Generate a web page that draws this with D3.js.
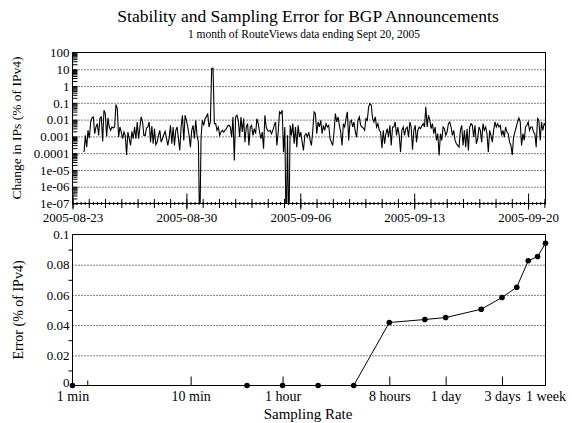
<!DOCTYPE html>
<html>
<head>
<meta charset="utf-8">
<script src="https://cdn.jsdelivr.net/npm/d3@7"></script>
<style>
  body { margin: 0; background: #fff; }
  text { font-family: "Liberation Serif", "Times New Roman", serif; fill: #000; }
</style>
</head>
<body>
<div id="chart"></div>
<script>
// ---- top panel: change in IPs, stored as log10(% of IPv4), about one value per 2 hours
// -9 marks the intervals with no change (drawn down through the bottom of the plot)
var changeExp = [
  -3.94, -2.94, -3.64, -2.64, -3.1, -2.14, -1.9, -1.84, -2.84, -2.44, -2.24, -2.94, -1.9, -1.84, -3.3, -1.44,
  -1.64, -3.0, -1.9, -2.44, -2.64, -2.44, -2.5, -2.44, -1.1, -1.34, -3.04, -2.44, -2.74, -3.14, -2.74, -2.94,
  -4.1, -2.74, -3.14, -3.54, -2.7, -3.14, -2.44, -3.14, -2.14, -3.14, -2.44, -1.84, -2.14, -2.94, -2.94, -2.5,
  -2.44, -2.14, -3.34, -2.38, -3.44, -2.54, -3.5, -3.34, -2.94, -2.64, -3.34, -3.14, -2.9, -2.7, -3.1, -3.54, -3.1,
  -2.34, -3.44, -2.44, -3.54, -2.64, -2.44, -3.14, -3.84, -2.44, -1.74, -3.24, -1.74, -2.04, -2.44, -2.94, -3.64,
  -2.64, -2.34, -3.14, -2.04, -2.94, -3.34, -9, -3.04, -2.04, -2.34, -1.94, -1.84, -1.64, -2.44, -2.14, 1.06,
  1.06, -2.24, -2.24, -2.64, -2.44, -2.94, -2.74, -2.64, -2.74, -2.64, -2.54, -2.38, -2.34, -2.44, -3.04, -1.84,
  -4.44, -1.84, -1.74, -2.04, -3.04, -1.84, -2.74, -1.94, -3.34, -2.44, -2.24, -3.54, -2.44, -2.34, -2.94, -2.54,
  -2.84, -1.94, -2.24, -2.74, -3.14, -2.74, -3.74, -1.74, -2.44,
  -2.64, -2.7, -2.64, -2.84, -2.64, -2.34, -2.14, -3.54, -2.74, -1.54, -1.64, -1.44, -3.94, -2.44, -9, -2.94,
  -9, -2.34, -2.94, -2.24, -3.44, -2.44, -3.64, -2.34, -3.04, -2.74, -3.34, -3.84, -2.94, -2.84, -3.04, -2.74,
  -3.24, -3.54, -2.64, -1.54, -1.64, -2.84, -2.14, -2.44, -2.04, -2.84, -2.34, -2.64, -2.24, -2.44, -2.34, -3.14,
  -3.34, -3.54, -2.74, -1.64, -2.14, -1.84, -2.34, -2.74, -3.54, -2.24, -2.44, -1.94, -1.54, -3.24, -2.14, -2.04,
  -2.44, -2.14, -2.74, -3.04, -2.04, -1.84, -2.34, -2.44, -2.5,
  -2.64, -1.94, -2.04, -1.24, -1.04, -1.14, -1.94, -2.14, -1.84, -2.44, -2.24, -2.64, -2.74, -3.7, -2.64, -3.44,
  -2.84, -2.54, -3.04, -2.34, -3.54, -2.44, -2.44, -2.14, -2.94, -2.44, -2.94, -3.94, -2.64, -2.44, -2.94, -2.54,
  -2.44, -3.04, -2.14, -2.44, -3.8, -2.64, -2.34, -3.34, -2.64, -2.44, -2.54, -2.38, -2.24, -2.44, -1.24, -2.44,
  -1.74, -2.04, -2.54, -2.24, -2.84, -2.44, -3.24, -2.84, -4.14, -2.84, -3.24, -2.44, -2.54, -2.94, -2.74, -2.24,
  -2.14, -2.44, -2.94, -2.64, -3.24, -3.44, -3.54, -3.64, -2.64,
  -2.34, -3.54, -2.64, -3.64, -2.54, -3.84, -2.44, -2.24, -2.34, -3.04, -2.34, -3.44, -3.14, -2.44, -2.64, -3.34,
  -2.24, -2.64, -2.44, -2.84, -3.94, -2.64, -2.94, -3.34, -2.64, -2.14, -2.44, -2.24, -2.44, -2.34, -2.94, -2.64,
  -3.04, -2.44, -2.74, -2.84, -3.34, -3.54, -4.1, -3.04, -2.74, -2.44, -2.14, -1.9, -2.14, -3.54, -2.84, -3.24,
  -2.44, -2.34, -2.14, -2.64, -2.44, -2.44, -2.74, -2.84, -3.64, -1.94, -2.04, -3.24, -2.14, -2.64, -2.24, -2.34
];
var seriesStart = new Date(2005, 7, 23, 17, 0);
var seriesEnd = new Date(2005, 8, 21, 1, 40);
var dateTicks = ["2005-08-23", "2005-08-30", "2005-09-06", "2005-09-13", "2005-09-20"];
var decadeTicks = [1e-7, 1e-6, 1e-5, 1e-4, 1e-3, 1e-2, 1e-1, 1, 10, 100];
var decadeLabels = ["1e-07", "1e-06", "1e-05", "0.0001", "0.001", "0.01", "0.1", "1", "10", "100"];

// ---- bottom panel: sampling error vs sampling interval (minutes)
var rateMinutes = [1, 30, 60, 120, 240, 480, 960, 1440, 2880, 4320, 5760, 7200, 8640, 10080];
var rateError = [0, 0, 0, 0, 0, 0.0417, 0.0437, 0.045, 0.0505, 0.0583, 0.0651, 0.0826, 0.0854, 0.0942];
var rateTicks = [1, 10, 60, 480, 1440, 4320, 10080];
var rateLabels = ["1 min", "10 min", "1 hour", "8 hours", "1 day", "3 days", "1 week"];
var errorTicks = [0, 0.02, 0.04, 0.06, 0.08, 0.1];
var errorMinor = [0.01, 0.03, 0.05, 0.07, 0.09];

var width = 572, height = 423;
var svg = d3.select("#chart").append("svg")
  .attr("width", width)
  .attr("height", height);

// titles
svg.append("text")
  .attr("x", 308).attr("y", 22)
  .attr("text-anchor", "middle")
  .style("font-size", "17.5px")
  .text("Stability and Sampling Error for BGP Announcements");
svg.append("text")
  .attr("x", 304).attr("y", 38)
  .attr("text-anchor", "middle")
  .style("font-size", "11.5px")
  .text("1 month of RouteViews data ending Sept 20, 2005");

//---------------- top panel
var left = 72.5, right = 545.5;
var topY0 = 52.5, topY1 = 203.5;
var parseDay = d3.timeParse("%Y-%m-%d");
var fmtDay = d3.timeFormat("%Y-%m-%d");

var xTop = d3.scaleTime()
  .domain([new Date(2005, 7, 23), new Date(2005, 8, 21, 1, 40)])
  .range([left, right]);
var yTop = d3.scaleLog().domain([1e-7, 100]).range([topY1, topY0]);

var n = changeExp.length;
var stepMs = (seriesEnd - seriesStart) / (n - 1);
var changeData = changeExp.map(function(e, i) {
  return { date: new Date(+seriesStart + i * stepMs), value: Math.pow(10, e) };
});

var topPanel = svg.append("g");

// dotted grid at every decade
topPanel.append("g")
  .attr("transform", "translate(" + left + ",0)")
  .call(d3.axisLeft(yTop).tickValues(decadeTicks.slice(1, -1)).tickSize(-(right - left)).tickFormat(""))
  .call(function(g) { g.select(".domain").remove(); })
  .selectAll("line").attr("stroke", "#000").attr("stroke-dasharray", "1,2");

// log minor ticks on the inside of the left edge
var minorLog = [];
decadeTicks.slice(0, -1).forEach(function(d) {
  for (var k = 1; k < 10; k++) minorLog.push(d * k);
});
minorLog.push(100);
topPanel.append("g")
  .attr("transform", "translate(" + left + ",0)")
  .call(d3.axisRight(yTop).tickValues(minorLog).tickSize(5).tickFormat(""))
  .call(function(g) { g.select(".domain").remove(); });

// decade labels
topPanel.append("g")
  .attr("transform", "translate(" + left + ",0)")
  .call(d3.axisLeft(yTop).tickValues(decadeTicks).tickSize(0).tickPadding(3)
    .tickFormat(function(d, i) { return decadeLabels[i]; }))
  .call(function(g) { g.select(".domain").remove(); })
  .selectAll("text")
  .style("font-size", "13px")
  .style("font-family", "Liberation Serif");

// x axis: 6-hour hatch, day crosses, week ticks
var sixHours = d3.timeHour.every(6).range(xTop.domain()[0], xTop.domain()[1]);
var days = d3.timeDay.range(xTop.domain()[0], xTop.domain()[1]);
var weeks = dateTicks.map(parseDay);

function tickAxis(axis, vals, size) {
  topPanel.append("g")
    .attr("transform", "translate(0," + topY1 + ")")
    .call(axis(xTop).tickValues(vals).tickSize(size).tickFormat(""))
    .call(function(g) { g.select(".domain").remove(); });
}
tickAxis(d3.axisTop, sixHours, 1.5);
tickAxis(d3.axisBottom, sixHours, 1.5);
tickAxis(d3.axisTop, days, 4.5);
tickAxis(d3.axisBottom, days, 4.5);
tickAxis(d3.axisTop, weeks, 10);

topPanel.append("g")
  .attr("transform", "translate(0," + topY1 + ")")
  .call(d3.axisBottom(xTop).tickValues(weeks).tickSize(6).tickPadding(3).tickFormat(fmtDay))
  .call(function(g) { g.select(".domain").remove(); })
  .selectAll("text")
  .style("font-size", "13px")
  .style("font-family", "Liberation Serif");

// the series
svg.append("clipPath").attr("id", "clipTop")
  .append("rect")
  .attr("x", left).attr("y", topY0)
  .attr("width", right - left).attr("height", topY1 - topY0);

topPanel.append("path")
  .datum(changeData)
  .attr("clip-path", "url(#clipTop)")
  .attr("fill", "none")
  .attr("stroke", "#000")
  .attr("stroke-width", 1.1)
  .attr("d", d3.line()
    .x(function(d) { return xTop(d.date); })
    .y(function(d) { return yTop(d.value); }));

topPanel.append("rect")
  .attr("x", left).attr("y", topY0)
  .attr("width", right - left).attr("height", topY1 - topY0)
  .attr("fill", "none").attr("stroke", "#000");

topPanel.append("text")
  .attr("transform", "translate(21," + ((topY0 + topY1) / 2) + ") rotate(-90)")
  .attr("text-anchor", "middle")
  .style("font-size", "13.5px")
  .text("Change in IPs (% of IPv4)");

//---------------- bottom panel
var botY0 = 234.5, botY1 = 385.5;
var xBot = d3.scaleLog().domain([1, 10080]).range([left, right]);
var yBot = d3.scaleLinear().domain([0, 0.1]).range([botY1, botY0]);

var botPanel = svg.append("g");

botPanel.append("g")
  .attr("transform", "translate(" + left + ",0)")
  .call(d3.axisLeft(yBot).tickValues(errorTicks.slice(1, -1)).tickSize(-(right - left)).tickFormat(""))
  .call(function(g) { g.select(".domain").remove(); })
  .selectAll("line").attr("stroke", "#000").attr("stroke-dasharray", "1,2");

botPanel.append("g")
  .attr("transform", "translate(" + left + ",0)")
  .call(d3.axisLeft(yBot).tickValues(errorMinor).tickSize(4).tickFormat(""))
  .call(function(g) { g.select(".domain").remove(); });

botPanel.append("g")
  .attr("transform", "translate(" + left + ",0)")
  .call(d3.axisLeft(yBot).tickValues(errorTicks).tickSize(0).tickPadding(3)
    .tickFormat(function(d) { return d === 0 ? "0" : String(+d.toFixed(2)); }))
  .call(function(g) { g.select(".domain").remove(); })
  .selectAll("text")
  .attr("dy", function(d) { return d === 0 ? "0.05em" : "0.32em"; })
  .style("font-size", "13px")
  .style("font-family", "Liberation Serif");

// rate ticks point up into the plot, labels below
botPanel.append("g")
  .attr("transform", "translate(0," + botY1 + ")")
  .call(d3.axisTop(xBot).tickValues(rateTicks.slice(1, -1)).tickSize(9).tickFormat(""))
  .call(function(g) { g.select(".domain").remove(); });
botPanel.append("g")
  .attr("transform", "translate(0," + botY1 + ")")
  .call(d3.axisTop(xBot).tickValues([4 / 3]).tickSize(5).tickFormat(""))
  .call(function(g) { g.select(".domain").remove(); });
botPanel.append("g")
  .attr("transform", "translate(0," + botY1 + ")")
  .call(d3.axisBottom(xBot).tickValues(rateTicks).tickSize(0).tickPadding(6)
    .tickFormat(function(d, i) { return rateLabels[i]; }))
  .call(function(g) { g.select(".domain").remove(); })
  .selectAll("text")
  .attr("dy", "0.68em")
  .style("font-size", "14px")
  .style("font-family", "Liberation Serif");

botPanel.append("rect")
  .attr("x", left).attr("y", botY0)
  .attr("width", right - left).attr("height", botY1 - botY0)
  .attr("fill", "none").attr("stroke", "#000");

var rateData = rateMinutes.map(function(m, i) { return { m: m, e: rateError[i] }; });

botPanel.append("path")
  .datum(rateData)
  .attr("fill", "none")
  .attr("stroke", "#000")
  .attr("stroke-width", 1)
  .attr("d", d3.line()
    .x(function(d) { return xBot(d.m); })
    .y(function(d) { return yBot(d.e); }));

botPanel.selectAll("circle")
  .data(rateData)
  .enter().append("circle")
  .attr("cx", function(d) { return xBot(d.m); })
  .attr("cy", function(d) { return yBot(d.e); })
  .attr("r", 2.8)
  .attr("fill", "#000");

botPanel.append("text")
  .attr("transform", "translate(23," + ((botY0 + botY1) / 2) + ") rotate(-90)")
  .attr("text-anchor", "middle")
  .style("font-size", "14px")
  .text("Error (% of IPv4)");

botPanel.append("text")
  .attr("x", 308).attr("y", 419)
  .attr("text-anchor", "middle")
  .style("font-size", "15px")
  .text("Sampling Rate");
</script>
</body>
</html>
